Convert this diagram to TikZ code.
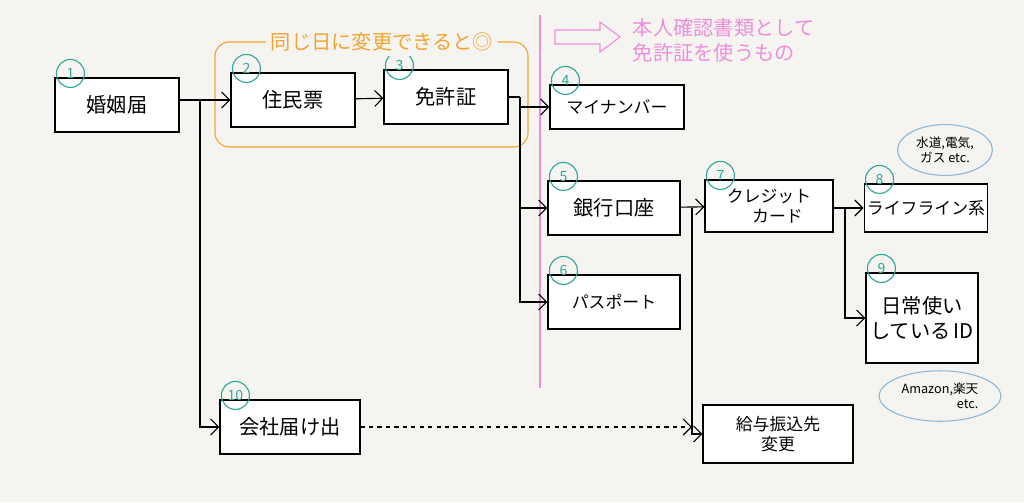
\documentclass[tikz,border=0pt]{standalone}
\usepackage{fontspec}
\setmainfont{Noto Sans CJK JP}
\usetikzlibrary{arrows.meta,shapes.geometric,calc}
\definecolor{paper}{HTML}{F6F4F1}
\definecolor{teal}{HTML}{2FA79B}
\definecolor{orng}{HTML}{F2A531}
\definecolor{pnk}{HTML}{EE8FDC}
\definecolor{bub}{HTML}{8FB8D8}
\tikzset{
    box/.style = {draw, thick, fill = white, minimum width = #1, align = center, font = \Large, inner sep = 2pt},
    box/.default = 3.1cm,
    num/.style = {draw = teal, circle, thick, text = teal, inner sep = 0.5pt, minimum size = 0.7cm},
    link/.style = {thick, -{Straight Barb[length = 2mm]}},
    bubble/.style = {draw = bub, thick, ellipse, fill = paper, align = center, font = \small}
}
\begin{document}
\begin{tikzpicture}[x = 0.025cm, y = -0.025cm]
        \useasboundingbox[fill = paper] (0,0) rectangle (1024,502);
        \begin{scope}[every node/.append style = {minimum height = 1.35cm}]
            \node[box] (kon) at (117,105) {婚姻届};
            \node[box] (jum) at (293,100) {住民票};
            \node[box] (men) at (446,97) {免許証};
            \node[box = 3.35cm, minimum height = 1.1cm, font = \large] (myn) at (617,107) {マイナンバー};
            \node[box = 3.3cm] (gin) at (614,208) {銀行口座};
            \node[box = 3.3cm, font = \large] (pas) at (614,302) {パスポート};
            \node[box = 3.2cm, minimum height = 1.3cm, font = \large] (cre) at (769,206) {クレジット\\　カード};
            \node[box = 2.95cm, minimum height = 1.2cm, font = \large] (lif) at (926,208) {ライフライン系};
            \node[box = 2.8cm, minimum height = 2.25cm] (idx) at (922,318) {日常使い\\している\,ID};
            \node[box = 3.5cm] (kai) at (290,427) {会社届け出};
            \node[box = 3.75cm, minimum height = 1.45cm, font = \large] (kyu) at (778,434) {給与振込先\\変更};
        \end{scope}
        \foreach \n/\b in {1/kon, 2/jum, 3/men, 4/myn, 5/gin, 6/pas, 7/cre, 8/lif, 9/idx, 10/kai}
            \node[num] at ($(\b.north west) + (16,-4)$) {\n};
        % same-day group and the ID line
        \draw[orng, thick, rounded corners = 10pt] (215,42) rectangle (528,147);
        \node[fill = paper, text = orng, font = \Large] at (382,42) {同じ日に変更できると◎};
        \draw[pnk, thick] (540,15) -- (540,388);
        \draw[pnk, thick] (555,30) -- (600,30) -- (600,22) -- (620,37) -- (600,52) -- (600,44) -- (555,44) -- cycle;
        \node[text = pnk, font = \Large, align = left, anchor = west] at (628,40) {本人確認書類として\\免許証を使うもの};
        \node[bubble] (bu1) at (945,150) {水道,電気,\\ガス etc.};
        \node[bubble] (bu2) at (940,396) {Amazon,楽天\\\hfill etc.};
        % connectors
        \coordinate (s1) at (200,100);
        \coordinate (s2) at (520,97);
        \coordinate (s3) at (692,208);
        \coordinate (s4) at (845,208);
        \draw[thick] (kon.east |- s1) -- (s1);
        \draw[link] (s1) -- (jum.west);
        \draw[link] (jum) -- (men);
        \draw[thick] (men.east) -- (s2);
        \draw[link] (s2) |- (myn.west);
        \draw[link] (s2) |- (gin.west);
        \draw[link] (s2) |- (pas.west);
        \draw[link] (s1) |- (kai.west);
        \draw[link] (gin) -- (cre);
        \draw[link] (s3) |- (kyu.west);
        \draw[thick] (cre.east |- s4) -- (s4);
        \draw[link] (s4) -- (lif.west |- s4);
        \draw[link] (s4) |- (idx.west);
        \draw[link, dashed] (kai) -- (kai -| s3);
\end{tikzpicture}
\end{document}
